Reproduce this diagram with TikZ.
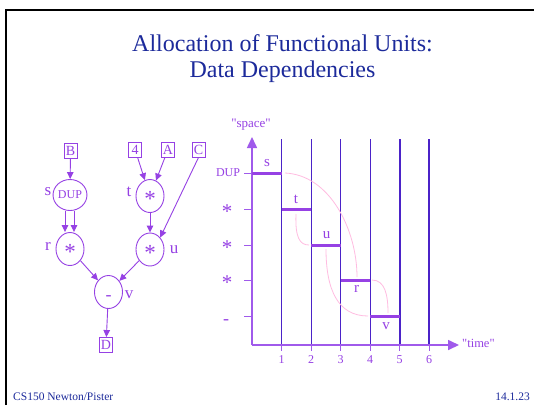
\documentclass[tikz,border=0pt]{standalone}
\usepackage{fontspec}
\setmainfont{Liberation Serif}[Ligatures=TeXOff]
\usetikzlibrary{arrows.meta,shapes.geometric}
\definecolor{fu}{RGB}{150,65,228}
\definecolor{axisc}{RGB}{160,90,235}
\definecolor{gridc}{RGB}{75,35,200}
\definecolor{dep}{RGB}{255,188,225}
\definecolor{head}{RGB}{28,42,155}
\newcommand{\fs}[1]{\fontsize{#1}{#1}\selectfont}
\begin{document}
\begin{tikzpicture}[x=1pt,y=-1pt,
  every node/.style={inner sep=0pt},
  iobox/.style={draw=fu,text=fu,line width=0.9pt,minimum width=13pt,minimum height=15pt,font=\fs{14}},
  unit/.style={draw=fu,text=fu,line width=0.9pt,ellipse,minimum width=28pt,minimum height=33pt},
  star/.style={font=\fs{23},text height=21pt,text depth=0pt},
  lab/.style={text=fu,font=\fs{17}},
  flow/.style={draw=fu,line width=0.9pt,-{Triangle[length=7pt,width=6.5pt]}},
  axisline/.style={draw=axisc,line width=1.6pt,-{Triangle[length=11pt,width=10pt]}},
  tick/.style={draw=axisc,line width=1pt},
  slot/.style={draw=gridc,line width=0.9pt},
  slotb/.style={draw=gridc,line width=2pt},
  bar/.style={draw=fu,line width=3pt},
  depc/.style={draw=dep,line width=0.8pt},
  ylab/.style={text=fu,font=\fs{12}},
  num/.style={text=fu,font=\fs{12}},
  foot/.style={text=head,font=\fs{11.5}}
]
\useasboundingbox (0,0) rectangle (534,405);
\fill[white] (0,0) rectangle (534,405);

% slide frame
\draw[black,line width=2pt] (5.5,405) -- (5.5,9.5) -- (534,9.5);

% title
\node[text=head,font=\fs{24}] (title1) at (282.5,43) {Allocation of Functional Units:};
\node[text=head,font=\fs{24}] (title2) at (282.5,72) {Data Dependencies};

% footer
\node[foot,anchor=west] (fl) at (13,397) {CS150 Newton/Pister};
\node[foot,anchor=east] (fr) at (530,397) {14.1.23};

% ---- data flow graph ----
\node[iobox] (B) at (70.5,150.5) {B};
\node[iobox] (four) at (135,149.5) {4};
\node[iobox] (A) at (168,149.5) {A};
\node[iobox] (C) at (198.5,149.5) {C};
\node[unit,minimum width=27pt,minimum height=31pt,font=\fs{12},text depth=-2pt] (s) at (70,195) {DUP};
\node[unit,star] (t) at (150,196) {*};
\node[unit,star] (r) at (70,249) {*};
\node[unit,star] (u) at (150,249.5) {*};
\node[unit,font=\fs{18},text height=16pt,text depth=0pt] (v) at (108.5,292) {-};
\node[iobox] (D) at (106,345) {D};

\node[lab] (sl) at (48,192) {s};
\node[lab] (tl) at (129,192) {t};
\node[lab] (rl) at (48,246) {r};
\node[lab] (ul) at (174,250) {u};
\node[lab] (vl) at (129,295) {v};

\draw[flow] (B) -- (s);
\draw[flow] ([xshift=-5pt]s.south) -- ([xshift=-5pt]r.north);
\draw[flow] ([xshift=4pt]s.south) -- ([xshift=4pt]r.north);
\draw[flow] (four) -- (t);
\draw[flow] (A) -- (t);
\draw[flow] (t) -- (u);
\draw[flow] (C.south) -- (u.north east);
\draw[flow] (r) -- (v);
\draw[flow] (u) -- (v);
\draw[flow] (v) -- (D);

% ---- schedule chart ----
\coordinate (o) at (252,345);
\coordinate (ytop) at (252,137);
\coordinate (xend) at (459,345);
\foreach \i/\c in {1/281.5,2/311,3/340.5,4/370,5/399.5,6/429}{
  \coordinate (b\i) at (\c,345);
  \coordinate (t\i) at (\c,139);
}
\foreach \i in {1,2,3,4}{ \draw[slot] (b\i) -- (t\i); }
\foreach \i in {5,6}{ \draw[slotb] (b\i) -- (t\i); }

\draw[axisline] (o) -- (ytop);
\draw[axisline] (o) -- (xend);
\node[text=fu,font=\fs{13}] (space) at (251,125) {"space"};
\node[text=fu,font=\fs{12.5},anchor=west] (time) at (462,343) {"time"};

% time ticks and numbers
\foreach \i in {1,...,6}{
  \draw[tick] (b\i) -- ++(0,6);
  \node[num] (n\i) at ([yshift=-15pt]b\i) {\i};
}

% unit rows
\foreach \n/\y in {DUProw/173,m1/209,m2/245,m3/280,subrow/316}{
  \coordinate (y\n) at (252,\y);
  \draw[tick] (y\n) -- ++(-8,0);
}
\node[ylab] (lDUP) at (228,173) {DUP};
\node[text=fu,star,font=\fs{21},text height=19pt] (l1) at (227,209) {*};
\node[text=fu,star,font=\fs{21},text height=19pt] (l2) at (227,245) {*};
\node[text=fu,star,font=\fs{21},text height=19pt] (l3) at (227,280) {*};
\node[text=fu,font=\fs{18},text height=12pt,text depth=0pt] (l4) at (226,318) {-};

% scheduled operations
\coordinate (s0) at (252,173); \coordinate (s1) at (282,173);
\coordinate (ta) at (282,209); \coordinate (tb) at (311,209);
\coordinate (ua) at (311,245); \coordinate (ub) at (341,245);
\coordinate (ra) at (341,280); \coordinate (rb) at (370,280);
\coordinate (va) at (370,316); \coordinate (vb) at (400,316);
\draw[bar] (s0) -- (s1);
\draw[bar] (ta) -- (tb);
\draw[bar] (ua) -- (ub);
\draw[bar] (ra) -- (rb);
\draw[bar] (va) -- (vb);
\node[lab,font=\fs{15}] (bs) at (267,163) {s};
\node[lab,font=\fs{15}] (bt) at (296,199) {t};
\node[lab,font=\fs{15}] (bu) at (326.5,235) {u};
\node[lab,font=\fs{15}] (br) at (356.5,289) {r};
\node[lab,font=\fs{15}] (bv) at (386,326) {v};

% dependency arcs
\coordinate (d1a) at (285,173); \coordinate (d1b) at (357,277);
\coordinate (d2a) at (296,214); \coordinate (d2b) at (309,245);
\coordinate (d3a) at (326,249); \coordinate (d3b) at (368,316);
\coordinate (d4a) at (372,280); \coordinate (d4b) at (388,313);
\draw[depc] (d1a) .. controls (330,175) and (357,230) .. (d1b);
\draw[depc] (d2a) .. controls (295,238) and (300,245) .. (d2b);
\draw[depc] (d3a) .. controls (326,290) and (338,316) .. (d3b);
\draw[depc] (d4a) .. controls (385,280) and (388,295) .. (d4b);
\end{tikzpicture}
\end{document}
